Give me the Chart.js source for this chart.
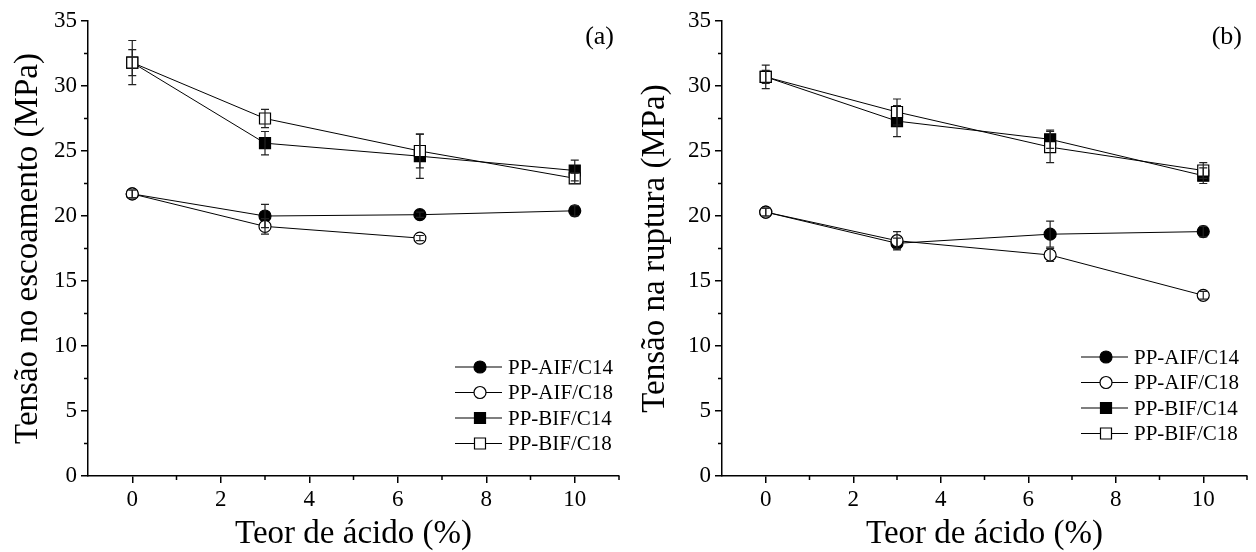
<!DOCTYPE html>
<html>
<head>
<meta charset="utf-8">
<script src="https://cdn.jsdelivr.net/npm/chart.js@4.4.1/dist/chart.umd.min.js"></script>
<style>
body { margin: 0; background: #fff; }
#wrap { position: relative; width: 1256px; height: 552px; }
canvas { position: absolute; top: 0; }
</style>
</head>
<body>
<div id="wrap">
  <canvas id="graficoA" width="628" height="552" style="left:0"></canvas>
  <canvas id="graficoB" width="628" height="552" style="left:628px"></canvas>
</div>
<script>
const teorAcido = [0, 3, 6.5, 10];
const ticksX = [0, 2, 4, 6, 8, 10];
const ticksY = [0, 5, 10, 15, 20, 25, 30, 35];
const menoresX = [1, 3, 5, 7, 9, 11];
const menoresY = [2.5, 7.5, 12.5, 17.5, 22.5, 27.5, 32.5];
const nomesSeries = ['PP-AIF/C14', 'PP-AIF/C18', 'PP-BIF/C14', 'PP-BIF/C18'];

// (a) tensão no escoamento
const escAifC14 = [21.7, 20.0, 20.1, 20.4];
const escAifC18 = [21.7, 19.2, 18.3, null];
const escBifC14 = [31.8, 25.6, 24.6, 23.5];
const escBifC18 = [31.8, 27.5, 25.0, 22.9];
const erroEscAifC14 = [0.3, 0.9, 0.2, 0.4];
const erroEscAifC18 = [0.3, 0.6, 0.2, null];
const erroEscBifC14 = [1.0, 0.9, 1.7, 0.8];
const erroEscBifC18 = [1.7, 0.7, 1.3, 0.4];

// (b) tensão na ruptura
const rupAifC14 = [20.3, 17.9, 18.6, 18.8];
const rupAifC18 = [20.3, 18.1, 17.0, 13.9];
const rupBifC14 = [30.7, 27.3, 25.9, 23.1];
const rupBifC18 = [30.7, 28.0, 25.3, 23.5];
const erroRupAifC14 = [0.3, 0.4, 1.0, 0.4];
const erroRupAifC18 = [0.3, 0.7, 0.5, 0.3];
const erroRupBifC14 = [0.5, 1.2, 0.7, 0.6];
const erroRupBifC18 = [0.9, 1.0, 1.2, 0.6];

const fonte = "'Liberation Serif', 'Times New Roman', serif";
const marcadores = [
    { estilo: 'circle', cheio: true },
    { estilo: 'circle', cheio: false },
    { estilo: 'rect', cheio: true },
    { estilo: 'rect', cheio: false }
];

function desenharMarcador(ctx, m, x, y) {
    ctx.beginPath();
    if (m.estilo === 'circle') {
        ctx.arc(x, y, 6, 0, Math.PI * 2);
    } else {
        ctx.rect(x - 5.5, y - 5.5, 11, 11);
    }
    ctx.fillStyle = m.cheio ? '#000' : '#fff';
    ctx.fill();
    ctx.lineWidth = 1.2;
    ctx.strokeStyle = '#000';
    ctx.stroke();
}

const ticksMenores = {
    id: 'ticksMenores',
    afterDraw(chart) {
        const ctx = chart.ctx, x = chart.scales.x, y = chart.scales.y;
        ctx.save();
        ctx.strokeStyle = '#000';
        ctx.lineWidth = 1.5;
        ctx.beginPath();
        menoresX.forEach(v => {
            const px = x.getPixelForValue(v);
            ctx.moveTo(px, x.top);
            ctx.lineTo(px, x.top + 4);
        });
        menoresY.forEach(v => {
            const py = y.getPixelForValue(v);
            ctx.moveTo(y.right, py);
            ctx.lineTo(y.right - 4, py);
        });
        ctx.stroke();
        ctx.restore();
    }
};

const barrasErro = {
    id: 'barrasErro',
    afterDatasetsDraw(chart) {
        const ctx = chart.ctx, y = chart.scales.y;
        ctx.save();
        ctx.strokeStyle = '#222';
        ctx.lineWidth = 1.2;
        chart.data.datasets.forEach((ds, i) => {
            const meta = chart.getDatasetMeta(i);
            meta.data.forEach((pt, j) => {
                const v = ds.data[j].y, e = ds.erro[j];
                if (v == null || !e) return;
                const top = y.getPixelForValue(v + e);
                const bot = y.getPixelForValue(v - e);
                ctx.beginPath();
                ctx.moveTo(pt.x, top); ctx.lineTo(pt.x, bot);
                ctx.moveTo(pt.x - 4, top); ctx.lineTo(pt.x + 4, top);
                ctx.moveTo(pt.x - 4, bot); ctx.lineTo(pt.x + 4, bot);
                ctx.stroke();
            });
        });
        ctx.restore();
    }
};

const legendaInterna = {
    id: 'legendaInterna',
    afterDraw(chart, args, opts) {
        const ctx = chart.ctx;
        ctx.save();
        chart.data.datasets.forEach((ds, i) => {
            const yy = opts.y0 + i * opts.dy;
            ctx.beginPath();
            ctx.moveTo(opts.x0, yy);
            ctx.lineTo(opts.x0 + 47, yy);
            ctx.lineWidth = 1.2;
            ctx.strokeStyle = '#000';
            ctx.stroke();
            desenharMarcador(ctx, marcadores[i], opts.x0 + 25, yy);
            ctx.fillStyle = '#000';
            ctx.font = '21px ' + fonte;
            ctx.textBaseline = 'middle';
            ctx.textAlign = 'left';
            ctx.fillText(ds.label, opts.x0 + 53, yy + 1);
        });
        ctx.font = '26px ' + fonte;
        ctx.textAlign = 'right';
        ctx.fillText(opts.letra, opts.letraX, 37);
        ctx.restore();
    }
};

function criarGrafico(id, valores, erros, tituloY, cfg) {
    const datasets = valores.map((vals, i) => ({
        label: nomesSeries[i],
        data: teorAcido.map((x, j) => ({ x: x, y: vals[j] })),
        erro: erros[i],
        order: valores.length - i, // a última série fica por cima
        borderColor: '#000',
        borderWidth: 1,
        pointStyle: marcadores[i].estilo,
        pointRadius: marcadores[i].estilo === 'rect' ? 7.8 : 6,
        pointBackgroundColor: marcadores[i].cheio ? '#000' : '#fff',
        pointBorderColor: '#000',
        pointBorderWidth: 1.2,
        tension: 0,
        fill: false
    }));

    return new Chart(document.getElementById(id), {
        type: 'line',
        data: { datasets: datasets },
        plugins: [ticksMenores, barrasErro, legendaInterna],
        options: {
            responsive: false,
            animation: false,
            layout: { padding: { top: 21, right: cfg.direita, left: 0, bottom: 0 } },
            plugins: {
                legend: { display: false },
                tooltip: { enabled: false },
                legendaInterna: cfg.legenda
            },
            scales: {
                x: {
                    type: 'linear',
                    min: -1,
                    max: 11,
                    afterBuildTicks: s => { s.ticks = ticksX.map(v => ({ value: v })); },
                    afterFit: s => { s.height = 76; },
                    grid: { drawOnChartArea: false, drawTicks: true, tickLength: 7, color: '#000', lineWidth: 1.5 },
                    border: { color: '#000', width: 1.5 },
                    ticks: { color: '#000', autoSkip: false, maxRotation: 0, padding: 3, font: { family: fonte, size: 23 } },
                    title: {
                        display: true,
                        text: 'Teor de ácido (%)',
                        color: '#000',
                        font: { family: fonte, size: 33, lineHeight: 1 },
                        padding: { top: 0, bottom: 1 }
                    }
                },
                y: {
                    min: 0,
                    max: 35,
                    afterBuildTicks: s => { s.ticks = ticksY.map(v => ({ value: v })); },
                    afterFit: s => { s.width = cfg.largY; },
                    grid: { drawOnChartArea: false, drawTicks: true, tickLength: 7, color: '#000', lineWidth: 1.5 },
                    border: { color: '#000', width: 1.5 },
                    ticks: { color: '#000', autoSkip: false, padding: 4, font: { family: fonte, size: 23 } },
                    title: {
                        display: true,
                        text: tituloY,
                        color: '#000',
                        font: { family: fonte, size: 33, lineHeight: 1 },
                        padding: { top: cfg.padTitulo, bottom: 0 }
                    }
                }
            }
        }
    });
}

criarGrafico('graficoA',
    [escAifC14, escAifC18, escBifC14, escBifC18],
    [erroEscAifC14, erroEscAifC18, erroEscBifC14, erroEscBifC18],
    'Tensão no escoamento (MPa)',
    { direita: 8, largY: 88, padTitulo: 11.5, legenda: { x0: 455, y0: 367, dy: 25.5, letra: '(a)', letraX: 614 } });

criarGrafico('graficoB',
    [rupAifC14, rupAifC18, rupBifC14, rupBifC18],
    [erroRupAifC14, erroRupAifC18, erroRupBifC14, erroRupBifC18],
    'Tensão na ruptura (MPa)',
    { direita: 6, largY: 94, padTitulo: 10.5, legenda: { x0: 453, y0: 357, dy: 25.5, letra: '(b)', letraX: 614 } });
</script>
</body>
</html>
